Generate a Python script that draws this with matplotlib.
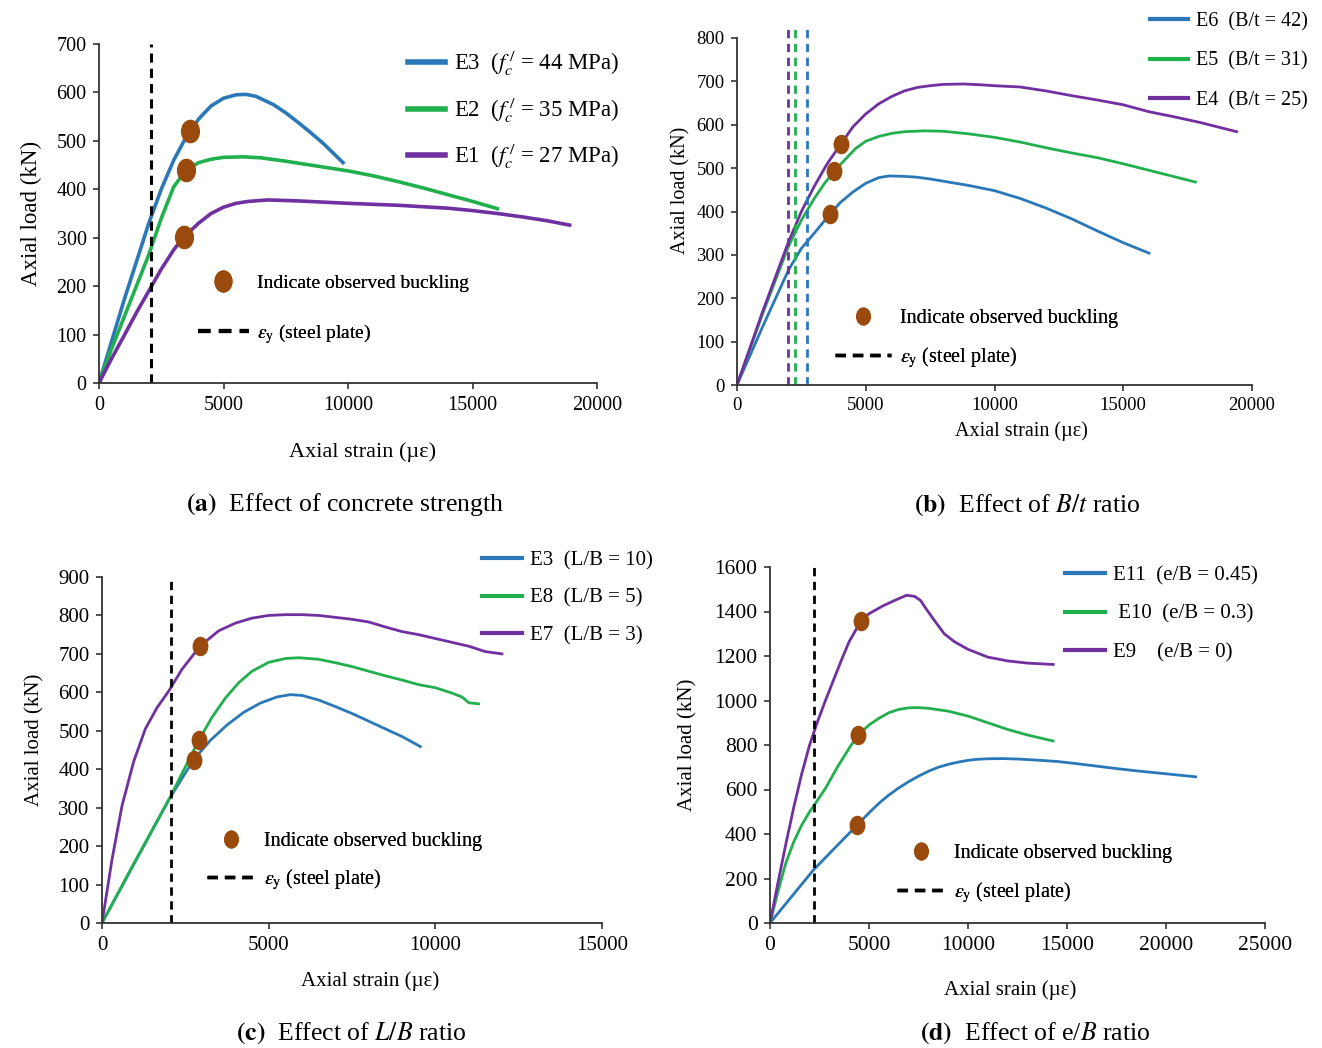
import numpy as np
import matplotlib
matplotlib.use("Agg")
import matplotlib.pyplot as plt
from matplotlib.lines import Line2D
from matplotlib.markers import MarkerStyle
from matplotlib.transforms import Affine2D

plt.rcParams['font.family'] = ['Liberation Serif', 'DejaVu Serif']
plt.rcParams['mathtext.fontset'] = 'stix'

BLUE = '#2a78b8'
GREEN = '#22b04e'
PURPLE = '#7030a0'
BROWN = '#9a4a0c'

# (a) effect of concrete strength
a_e3_x = [0, 500, 1000, 1500, 2000, 2500, 3000, 3500, 4000, 4500, 5000, 5500, 5900, 6300, 7000,
          7500, 8000, 8500, 9000, 9500, 9800]
a_e3_y = [0, 85, 170, 250, 330, 400, 460, 508, 545, 572, 588, 595, 596, 592, 575, 558, 538, 517,
          495, 470, 455]
a_e2_x = [0, 500, 1000, 1500, 2000, 2500, 3000, 3500, 4000, 4500, 5000, 5800, 6500, 7500, 8500,
          10000, 11000, 12000, 13000, 14000, 15000, 16000]
a_e2_y = [0, 70, 135, 200, 265, 340, 405, 440, 455, 462, 466, 467, 465, 458, 450, 438, 428, 416,
          403, 389, 375, 360]
a_e1_x = [0, 500, 1000, 1500, 2000, 2500, 3000, 3400, 4000, 4500, 5000, 5500, 6000, 6800, 8000,
          10000, 12000, 14000, 15000, 16000, 17000, 18000, 18900]
a_e1_y = [0, 50, 97, 145, 190, 235, 275, 301, 330, 350, 363, 371, 375, 378, 376, 371, 367, 361,
          356, 350, 343, 335, 326]
a_buck_x = [3650, 3500, 3400]
a_buck_y = [520, 440, 301]
a_yield = 2100

# (b) effect of B/t ratio
b_e6_x = [0, 1000, 2000, 2500, 3000, 3610, 4000, 4500, 5000, 5500, 5900, 6500, 7000, 7500, 8000,
          9000, 10000, 11000, 12000, 13000, 14000, 15000, 16000]
b_e6_y = [0, 135, 265, 315, 350, 394, 420, 445, 465, 478, 482, 481, 479, 475, 470, 460, 448, 430,
          408, 383, 355, 328, 304]
b_e5_x = [0, 1000, 2000, 2500, 3000, 3400, 3780, 4200, 4600, 5000, 5500, 6000, 6500, 7300, 8000,
          9000, 10000, 11000, 12000, 13000, 14000, 15000, 16000, 17000, 17800]
b_e5_y = [0, 165, 320, 380, 430, 465, 493, 520, 545, 562, 573, 580, 584, 586, 585, 579, 571, 560,
          547, 535, 524, 510, 495, 480, 468]
b_e4_x = [0, 1000, 2000, 2500, 3000, 3500, 4040, 4500, 5000, 5500, 6000, 6500, 7000, 7500, 8000,
          8800, 9500, 10000, 11000, 12000, 13000, 14000, 15000, 16000, 17000, 18000, 19400]
b_e4_y = [0, 170, 330, 400, 458, 510, 556, 595, 625, 648, 665, 678, 686, 690, 693, 694, 692, 690,
          687, 678, 667, 657, 646, 630, 618, 605, 584]
b_buck_x = [3610, 3780, 4040]
b_buck_y = [394, 493, 556]
b_yield = [2730, 2240, 1995]

# (c) effect of L/B ratio
c_e3_x = [0, 1000, 2000, 2750, 3250, 3750, 4250, 4750, 5250, 5650, 6000, 6500, 7000, 7500, 8000,
          8500, 9000, 9550]
c_e3_y = [0, 160, 320, 425, 475, 515, 548, 572, 588, 594, 592, 580, 563, 545, 525, 505, 485, 459]
c_e8_x = [0, 1000, 2000, 2900, 3300, 3700, 4100, 4500, 5000, 5500, 5900, 6500, 7000, 7500, 8000,
          8500, 9000, 9500, 10000, 10500, 10800, 11000, 11300]
c_e8_y = [0, 162, 320, 475, 535, 585, 625, 655, 678, 688, 690, 686, 677, 667, 655, 643, 632, 620,
          612, 598, 588, 573, 570]
c_e7_x = [0, 300, 600, 950, 1300, 1650, 2000, 2400, 2950, 3500, 4000, 4500, 5000, 5500, 6000,
          6500, 7000, 7500, 8000, 8500, 9000, 9500, 10000, 10500, 11000, 11500, 12000]
c_e7_y = [0, 165, 305, 420, 505, 560, 603, 660, 721, 760, 780, 793, 800, 802, 802, 800, 795, 790,
          783, 770, 758, 750, 740, 730, 720, 706, 700]
c_buck_x = [2750, 2900, 2950]
c_buck_y = [425, 475, 721]
c_yield = 2056

# (d) effect of e/B ratio
d_e11_x = [0, 2200, 4400, 5000, 5500, 6000, 6500, 7000, 7500, 8000, 8500, 9000, 9500, 10000,
           10500, 11000, 11700, 12500, 13500, 14500, 15500, 16500, 17500, 18500, 19500, 20500, 21500]
d_e11_y = [0, 239, 440, 495, 538, 575, 607, 635, 660, 682, 700, 713, 723, 731, 736, 738, 739, 737,
           732, 726, 716, 705, 694, 684, 675, 666, 657]
d_e10_x = [0, 400, 800, 1200, 1600, 2000, 2400, 2800, 3400, 4100, 4450, 5000, 5500, 6000, 6500,
           7000, 7500, 8000, 9000, 10000, 11000, 12000, 13000, 14300]
d_e10_y = [0, 140, 270, 365, 440, 500, 552, 605, 700, 800, 843, 890, 920, 945, 960, 967, 968, 965,
           952, 930, 900, 870, 845, 818]
d_e9_x = [0, 400, 800, 1200, 1600, 2000, 2400, 2800, 3200, 3600, 4000, 4600, 5000, 5700, 6300,
          6900, 7300, 7600, 7900, 8300, 8800, 9300, 10000, 11000, 12000, 13000, 14300]
d_e9_y = [0, 180, 355, 520, 670, 800, 905, 1000, 1090, 1180, 1265, 1358, 1390, 1425, 1450, 1473,
          1468, 1450, 1410, 1360, 1300, 1265, 1230, 1195, 1178, 1168, 1162]
d_buck_x = [4400, 4450, 4600]
d_buck_y = [440, 843, 1358]
d_yield = 2200

W, H = 1322, 1048
fig = plt.figure(figsize=(W / 100, H / 100), dpi=100)
ell = MarkerStyle('o', transform=Affine2D().scale(0.8, 1.0))


def box(l, r, b, t):
    return [l / W, 1 - b / H, (r - l) / W, (b - t) / H]


def fpt(x, y):
    return (x / W, 1 - y / H)


def style(ax, xmax, xstep, ymax, ystep, fs):
    ax.set_xlim(0, xmax)
    ax.set_ylim(0, ymax)
    ax.set_xticks(np.arange(0, xmax + 1, xstep))
    ax.set_yticks(np.arange(0, ymax + 1, ystep))
    for s in ['top', 'right']:
        ax.spines[s].set_visible(False)
    for s in ['left', 'bottom']:
        ax.spines[s].set_color('#333333')
        ax.spines[s].set_linewidth(1.3)
    ax.tick_params(direction='out', length=4, width=1.2, labelsize=fs, pad=5, color='#333333')


def add_notes(ax, anchor, fs, hl, ms, lw, spacing):
    h1 = Line2D([], [], ls='none', marker=ell, ms=ms, color=BROWN)
    h2 = Line2D([], [], ls=(0, (3, 2)), lw=lw, color='black')
    leg = ax.legend([h1, h2], ['Indicate observed buckling', r'$\varepsilon_{\mathrm{y}}$ (steel plate)'],
                    loc='upper left', bbox_to_anchor=fpt(*anchor), bbox_transform=fig.transFigure,
                    frameon=False, fontsize=fs, handlelength=hl, handletextpad=0.45,
                    labelspacing=spacing, borderpad=0, borderaxespad=0)
    ax.add_artist(leg)


def add_main_legend(ax, labels, colors, anchor, fs, spacing, hlen, lw):
    hs = [Line2D([], [], color=c, lw=lw) for c in colors]
    leg = ax.legend(hs, labels, loc='upper left', bbox_to_anchor=fpt(*anchor),
                    bbox_transform=fig.transFigure, frameon=False, fontsize=fs,
                    handlelength=hlen, handletextpad=0.4, labelspacing=spacing,
                    borderpad=0, borderaxespad=0)
    ax.add_artist(leg)


# ---- (a)
ax = fig.add_axes(box(99, 597, 383, 44))
ax.plot(a_e3_x, a_e3_y, color=BLUE, lw=2.6)
ax.plot(a_e2_x, a_e2_y, color=GREEN, lw=2.6)
ax.plot(a_e1_x, a_e1_y, color=PURPLE, lw=2.6)
ax.vlines(a_yield, 0, 700, colors='black', linestyles=(0, (3, 2)), lw=2.2)
ax.plot(a_buck_x, a_buck_y, ls='none', marker=ell, ms=16, color=BROWN, zorder=5)
style(ax, 20000, 5000, 700, 100, 14.5)
ax.set_xlabel('Axial strain (\u00b5\u03b5)', fontsize=16)
ax.set_ylabel('Axial load (kN)', fontsize=16.5)
ax.xaxis.set_label_coords(0.53, -0.175)
ax.yaxis.set_label_coords(-0.115, 0.5)
add_main_legend(ax, [r'E3  ($f_c^{\,/}$ = 44 MPa)', r'E2  ($f_c^{\,/}$ = 35 MPa)',
                     r'E1  ($f_c^{\,/}$ = 27 MPa)'],
                [BLUE, GREEN, PURPLE], (408, 49), 16.5, 0.75, 1.6, 4)
add_notes(ax, (198, 274), 14, 2.6, 15, 3, 1.55)
fig.text(345 / W, 1 - 505 / H, r'$\mathbf{(a)}$  Effect of concrete strength', fontsize=18.5,
         ha='center', va='center')

# ---- (b)
ax = fig.add_axes(box(737, 1252, 385, 38))
ax.plot(b_e6_x, b_e6_y, color=BLUE, lw=2)
ax.plot(b_e5_x, b_e5_y, color=GREEN, lw=2)
ax.plot(b_e4_x, b_e4_y, color=PURPLE, lw=2)
for xv, c in zip(b_yield, [BLUE, GREEN, PURPLE]):
    ax.vlines(xv, 0, 830, colors=c, linestyles=(0, (3, 2)), lw=2, clip_on=False)
ax.plot(b_buck_x, b_buck_y, ls='none', marker=ell, ms=13, color=BROWN, zorder=5)
style(ax, 20000, 5000, 800, 100, 13.5)
ax.set_xlabel('Axial strain (\u00b5\u03b5)', fontsize=14.5)
ax.set_ylabel('Axial load (kN)', fontsize=14.5)
ax.xaxis.set_label_coords(0.553, -0.105)
ax.yaxis.set_label_coords(-0.09, 0.56)
add_main_legend(ax, ['E6  (B/t = 42)', 'E5  (B/t = 31)', 'E4  (B/t = 25)'],
                [BLUE, GREEN, PURPLE], (1150, 12), 14.5, 1.0, 1.9, 3)
add_notes(ax, (835, 309), 14.5, 2.8, 12, 2.5, 0.85)
fig.text(1027 / W, 1 - 505 / H, r'$\mathbf{(b)}$  Effect of $B/t$ ratio', fontsize=18.5,
         ha='center', va='center')

# ---- (c)
ax = fig.add_axes(box(102, 602, 923, 577))
ax.plot(c_e3_x, c_e3_y, color=BLUE, lw=2)
ax.plot(c_e8_x, c_e8_y, color=GREEN, lw=2)
ax.plot(c_e7_x, c_e7_y, color=PURPLE, lw=2)
ax.vlines(c_yield, 0, 900, colors='black', linestyles=(0, (3, 2)), lw=2)
ax.plot(c_buck_x, c_buck_y, ls='none', marker=ell, ms=13, color=BROWN, zorder=5)
style(ax, 15000, 5000, 900, 100, 15)
ax.set_xlabel('Axial strain (\u00b5\u03b5)', fontsize=15)
ax.set_ylabel('Axial load (kN)', fontsize=15)
ax.xaxis.set_label_coords(0.536, -0.14)
ax.yaxis.set_label_coords(-0.115, 0.53)
add_main_legend(ax, ['E3  (L/B = 10)', 'E8  (L/B = 5)', 'E7  (L/B = 3)'],
                [BLUE, GREEN, PURPLE], (482, 551), 15, 0.85, 1.9, 3)
add_notes(ax, (207, 832), 14.5, 2.4, 12, 2.5, 0.8)
fig.text(351 / W, 1 - 1033 / H, r'$\mathbf{(c)}$  Effect of $L/B$ ratio', fontsize=18.5,
         ha='center', va='center')

# ---- (d)
ax = fig.add_axes(box(770, 1265, 923, 567))
ax.plot(d_e11_x, d_e11_y, color=BLUE, lw=2)
ax.plot(d_e10_x, d_e10_y, color=GREEN, lw=2)
ax.plot(d_e9_x, d_e9_y, color=PURPLE, lw=2)
ax.vlines(d_yield, 0, 1620, colors='black', linestyles=(0, (3, 2)), lw=2, clip_on=False)
ax.plot(d_buck_x, d_buck_y, ls='none', marker=ell, ms=13, color=BROWN, zorder=5)
style(ax, 25000, 5000, 1600, 200, 15.5)
ax.set_xlabel('Axial srain (\u00b5\u03b5)', fontsize=15)
ax.set_ylabel('Axial load (kN)', fontsize=15)
ax.xaxis.set_label_coords(0.485, -0.16)
ax.yaxis.set_label_coords(-0.147, 0.5)
add_main_legend(ax, ['E11  (e/B = 0.45)', ' E10  (e/B = 0.3)', 'E9    (e/B = 0)'],
                [BLUE, GREEN, PURPLE], (1065, 566), 15, 0.9, 1.9, 3)
add_notes(ax, (897, 844), 14.5, 2.4, 12, 2.5, 0.85)
fig.text(1035 / W, 1 - 1033 / H, r'$\mathbf{(d)}$  Effect of e/$B$ ratio', fontsize=18.5,
         ha='center', va='center')

fig.savefig('out.png', dpi=100)
